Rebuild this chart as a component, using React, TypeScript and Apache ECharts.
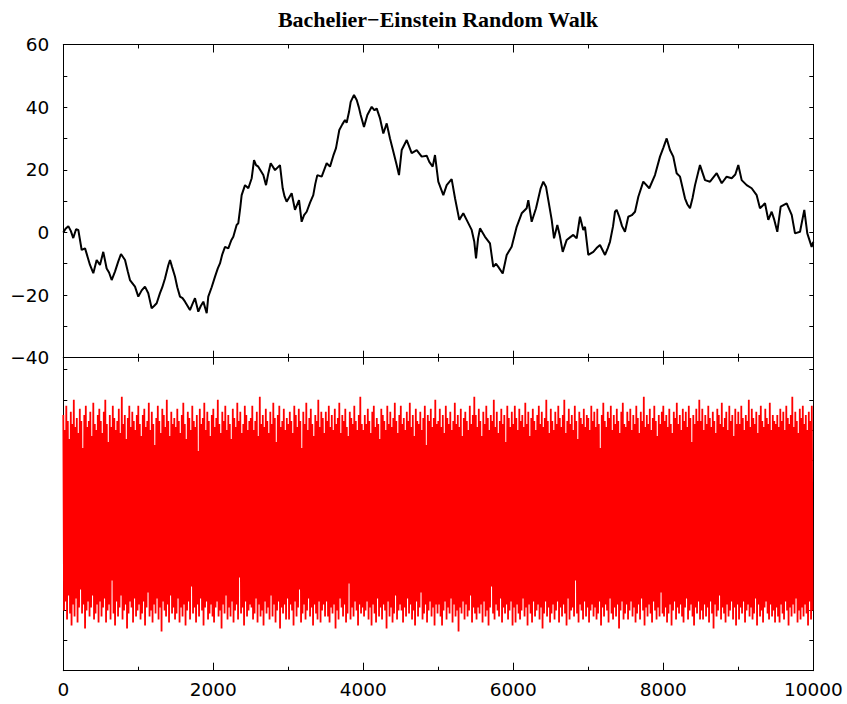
import React, { useEffect, useRef } from "react";
import * as echarts from "echarts";

const TITLE = "Bachelier\u2212Einstein Random Walk";

// x positions and values of the random walk (top panel)
const walkX = [
  0, 30, 67, 100, 133, 170, 200, 245, 290, 320, 356, 400, 445, 489, 533, 578, 610, 645, 689, 730,
  769, 823, 860, 889, 956, 1000, 1045, 1089, 1133, 1178, 1210, 1245, 1289, 1320, 1356, 1400, 1423, 1450, 1489, 1520,
  1556, 1590, 1623, 1689, 1720, 1756, 1800, 1833, 1867, 1912, 1933, 1978, 2023, 2060, 2089, 2120, 2156, 2200, 2240, 2267,
  2311, 2333, 2360, 2378, 2423, 2467, 2512, 2543, 2570, 2600, 2667, 2703, 2735, 2765, 2823, 2889, 2925, 2950, 2978, 3045,
  3089, 3143, 3178, 3210, 3245, 3290, 3333, 3360, 3387, 3445, 3512, 3556, 3600, 3636, 3680, 3720, 3756, 3778, 3810, 3832,
  3876, 3912, 3940, 3965, 4009, 4054, 4112, 4150, 4178, 4223, 4267, 4312, 4356, 4400, 4445, 4476, 4512, 4579, 4645, 4712,
  4779, 4845, 4880, 4925, 4956, 5000, 5067, 5112, 5178, 5223, 5280, 5333, 5378, 5445, 5480, 5503, 5530, 5556, 5623, 5689,
  5733, 5770, 5800, 5859, 5912, 5978, 6045, 6112, 6178, 6200, 6245, 6303, 6365, 6400, 6436, 6467, 6512, 6543, 6587, 6620,
  6659, 6712, 6760, 6800, 6845, 6889, 6933, 6956, 7000, 7067, 7110, 7156, 7223, 7260, 7289, 7330, 7356, 7378, 7413, 7450,
  7489, 7533, 7580, 7623, 7667, 7733, 7813, 7889, 7956, 8000, 8045, 8089, 8133, 8178, 8223, 8289, 8320, 8356, 8390, 8423,
  8489, 8556, 8623, 8712, 8779, 8845, 8912, 8960, 9000, 9045, 9112, 9178, 9245, 9289, 9356, 9400, 9445, 9480, 9520, 9565,
  9645, 9712, 9756, 9823, 9880, 9920, 9978, 10000,
];
const walkY = [
  0, 1.2, 2.0, 0.5, -1.8, 1.0, 0.8, -5.6, -5.1, -7.5, -10.4, -13, -8.8, -10.4, -6.2, -11.5, -12.8, -15.2, -12.5, -9.5,
  -6.9, -8.8, -12.5, -15.2, -17.3, -20.5, -18.5, -17.3, -19.4, -24.2, -23.5, -22.6, -19.4, -17.5, -14.7, -10.5, -8.8, -11, -14.1, -17.5,
  -20.5, -21, -22.1, -24.8, -23, -21, -25.3, -23.5, -22.1, -25.8, -20.5, -17.5, -14.1, -11.5, -9.9, -7, -4.6, -5.1, -2.5, -1.4,
  2.4, 2.9, 8, 11.9, 15.1, 14.1, 17.3, 23.1, 21.5, 21, 18.3, 15.1, 19, 22.1, 19.9, 21.5, 14.1, 11.5, 9.8, 12.5,
  7.2, 10.3, 3.4, 5.5, 6.6, 9.5, 11.9, 15.5, 18.3, 17.8, 22.1, 21, 24.5, 26.9, 32.7, 34.5, 35.9, 35, 38.5, 41.7,
  43.9, 42.3, 40, 37.5, 33.7, 37.5, 40.1, 39, 39.6, 36.4, 31.6, 34.8, 30, 25.8, 21.5, 18.3, 26.3, 29.5, 25.3, 26.3,
  24.2, 24.5, 22.5, 21, 24.7, 16.2, 11.9, 15.1, 17, 10.9, 4, 6.1, 4, 0.8, -3, -8.3, -2, 1.3, -1.4, -3.5,
  -11, -10, -11, -13.1, -7.2, -4.6, 1.8, 6.1, 7.7, 10.3, 3.4, 7.7, 14.1, 16.2, 14.6, 10.3, 4, -1.9, 2.4, -1,
  -6.2, -2.4, -1.5, -0.8, -1.9, 5, 0.8, 1.8, -7.2, -6.2, -5, -4, -7.2, -5, -3, 2, 6.6, 7.2, 5, 2,
  0.2, 5, 5.5, 6.6, 11.4, 16.2, 14.1, 18.3, 24.2, 27, 30, 26.3, 24.2, 18.9, 17.8, 10.9, 9, 7.7, 11, 15.1,
  21.5, 16.7, 16.2, 18.9, 15.7, 17.8, 17.3, 18.5, 21.5, 16.7, 15.1, 14.1, 11.9, 7.7, 9.3, 4, 6.6, 4, 0.2, 8.2,
  9.3, 5.6, -0.3, 0.2, 7.2, -0.3, -4.6, -3,
];

// increments (bottom panel): upper and lower extremes, one pair per 20 steps
const noiseHigh = [
  33,28,36,31,25,34,30,38,29,32,27,35,31,22,33,36,29,31,34,26,37,30,28,33,35,
  31,27,34,38,30,24,33,29,36,32,28,31,35,27,39,30,33,25,32,36,29,34,31,28,33,
  36,30,26,33,35,29,31,37,28,34,30,23,32,36,31,27,35,33,29,38,31,26,34,30,32,
  29,35,31,27,33,37,30,25,34,32,28,36,31,29,33,21,35,30,32,37,28,34,31,26,33,
  35,29,32,38,30,27,34,31,36,28,33,30,25,35,32,29,37,31,34,27,30,36,33,28,31,
  32,36,28,31,34,26,39,30,33,29,35,31,27,34,30,37,32,24,33,36,29,31,35,28,32,
  30,34,31,27,36,33,29,35,31,22,34,30,37,28,32,35,30,26,33,31,38,29,34,32,27,
  34,31,36,29,33,28,35,30,32,37,27,33,31,35,29,26,34,32,30,36,31,28,33,39,30,
  28,33,30,35,31,27,34,36,29,32,30,25,35,33,31,28,36,30,34,29,32,37,31,27,33,
  36,30,32,28,34,31,37,29,33,26,35,31,30,34,28,32,36,23,33,31,35,29,32,38,30,
  31,35,29,33,27,36,32,30,34,28,31,37,30,33,29,35,26,32,34,31,28,36,30,33,39,
  33,29,35,31,26,34,30,36,32,28,33,31,38,29,34,27,31,35,30,33,24,36,32,29,34,
  30,36,32,28,35,31,33,29,37,30,34,26,32,35,31,28,33,36,30,34,29,32,38,31,27,
  35,31,28,34,30,36,32,29,33,38,27,31,35,30,33,28,36,31,25,34,32,30,35,29,33,
  32,28,36,31,34,29,35,30,22,33,37,31,29,34,32,36,28,33,30,35,31,27,34,37,30,
  29,34,31,35,28,33,30,36,32,27,34,31,39,29,33,30,35,28,32,36,31,26,33,30,34,
  36,31,33,29,35,30,27,34,32,37,30,33,28,35,31,34,29,36,32,24,33,30,35,31,38,
  31,35,28,33,30,36,32,29,34,31,27,35,33,30,37,29,32,34,28,36,31,33,26,35,30,
  34,30,36,32,28,33,31,38,29,35,32,30,34,27,33,36,31,29,35,32,30,37,28,33,31,
  30,33,29,35,31,34,28,36,32,30,33,39,29,34,31,27,35,32,36,30,33,28,34,31,36,
];
const noiseLow = [
  -32,-29,-35,-27,-33,-37,-30,-34,-28,-36,-31,-25,-33,-30,-38,-32,-29,-34,-31,-27,-35,-33,-30,-36,-29,
  -34,-31,-28,-36,-32,-30,-35,-22,-33,-37,-29,-34,-31,-27,-35,-32,-30,-38,-33,-29,-31,-36,-28,-34,-32,
  -30,-35,-33,-29,-37,-31,-26,-34,-32,-36,-30,-33,-28,-35,-31,-39,-29,-32,-34,-30,-36,-27,-33,-31,-35,
  -33,-28,-36,-31,-34,-30,-37,-32,-29,-35,-24,-33,-31,-36,-30,-34,-28,-32,-37,-31,-29,-35,-33,-30,-34,
  -36,-31,-29,-34,-32,-38,-30,-33,-27,-35,-31,-34,-29,-36,-32,-30,-35,-21,-33,-31,-37,-29,-34,-32,-30,
  -31,-35,-33,-28,-36,-30,-34,-32,-37,-29,-33,-31,-35,-27,-34,-30,-36,-32,-29,-38,-31,-33,-30,-35,-28,
  -35,-30,-32,-37,-29,-34,-31,-25,-36,-33,-30,-35,-32,-28,-34,-31,-37,-30,-33,-35,-29,-36,-32,-30,-34,
  -29,-34,-36,-31,-33,-30,-38,-32,-35,-28,-31,-34,-30,-36,-33,-23,-35,-31,-34,-29,-32,-37,-30,-33,-31,
  -34,-32,-29,-35,-31,-37,-30,-33,-36,-28,-34,-31,-35,-30,-32,-38,-29,-34,-31,-36,-33,-27,-35,-32,-30,
  -32,-36,-31,-34,-28,-33,-30,-35,-32,-37,-29,-34,-31,-26,-35,-33,-30,-36,-32,-29,-34,-31,-37,-30,-33,
  -30,-34,-37,-32,-29,-35,-31,-33,-28,-36,-30,-34,-32,-39,-31,-33,-29,-35,-30,-34,-32,-27,-36,-31,-33,
  -35,-31,-33,-30,-36,-29,-34,-32,-37,-31,-24,-33,-35,-30,-32,-34,-28,-36,-31,-33,-30,-35,-32,-29,-37,
  -31,-36,-30,-33,-35,-32,-28,-34,-31,-37,-30,-33,-36,-29,-34,-32,-30,-35,-31,-38,-33,-29,-34,-31,-36,
  -33,-30,-35,-32,-29,-36,-31,-34,-30,-33,-37,-28,-35,-32,-31,-34,-22,-33,-36,-30,-32,-35,-29,-34,-31,
  -36,-32,-30,-34,-31,-35,-33,-29,-37,-31,-34,-30,-32,-36,-28,-33,-35,-31,-34,-30,-38,-32,-29,-35,-33,
  -30,-35,-32,-29,-34,-31,-36,-33,-30,-35,-28,-32,-37,-31,-34,-30,-33,-36,-29,-32,-35,-31,-34,-26,-33,
  -34,-31,-36,-33,-30,-37,-32,-29,-35,-31,-33,-30,-34,-36,-31,-28,-35,-32,-30,-34,-37,-31,-33,-29,-35,
  -32,-35,-30,-34,-31,-36,-29,-33,-38,-30,-34,-32,-27,-35,-31,-33,-36,-30,-34,-32,-29,-35,-31,-37,-30,
  -35,-31,-33,-29,-36,-32,-30,-34,-31,-35,-33,-28,-37,-30,-34,-32,-36,-31,-29,-33,-35,-30,-34,-32,-36,
  -31,-34,-36,-30,-33,-35,-29,-32,-37,-31,-34,-30,-33,-28,-36,-32,-35,-31,-34,-30,-33,-37,-29,-35,-32,
];

const NOISE_STEP = 20;

const MINUS = "\u2212";
const fmtY = (v: number) => {
  if (Math.round(v) % 20 !== 0) return "";
  return v < 0 ? MINUS + Math.abs(v) : String(v);
};
const fmtX = (v: number) => String(Math.round(v));

export default function App() {
  const ref = useRef<HTMLDivElement>(null);
  useEffect(() => {
    if (!ref.current) return;
    const chart = echarts.init(ref.current, undefined, { renderer: "svg" });

    const walkData = walkX.map((x, i) => [x, walkY[i]]);
    const noiseData: number[][] = [];
    noiseHigh.forEach((h, i) => {
      noiseData.push([i * NOISE_STEP, h]);
      noiseData.push([i * NOISE_STEP + NOISE_STEP / 2, noiseLow[i]]);
    });

    const black = { color: "#000", width: 1 };
    const labelFont = { fontFamily: "DejaVu Sans", fontSize: 18.5, color: "#000" };
    const xAxisBase = (grid: number, pos: "top" | "bottom", major: number, labels: boolean) => ({
      type: "value" as const,
      gridIndex: grid,
      position: pos,
      min: 0,
      max: 10000,
      interval: 2000,
      axisLine: { show: true, onZero: false, lineStyle: black },
      axisTick: { show: true, inside: true, length: major, lineStyle: black },
      minorTick: { show: true, splitNumber: 2, length: 4, lineStyle: black },
      splitLine: { show: false },
      minorSplitLine: { show: false },
      axisLabel: labels
        ? { show: true, margin: 9, formatter: fmtX, ...labelFont }
        : { show: false },
    });
    const yAxisBase = (grid: number, pos: "left" | "right", min: number, max: number, labels: boolean) => ({
      type: "value" as const,
      gridIndex: grid,
      position: pos,
      min,
      max,
      interval: 10,
      axisLine: { show: true, onZero: false, lineStyle: black },
      axisTick: { show: true, inside: true, length: 4, lineStyle: black },
      splitLine: { show: false },
      axisLabel: labels
        ? { show: true, margin: 14, formatter: fmtY, ...labelFont }
        : { show: false },
    });

    chart.setOption({
      animation: false,
      backgroundColor: "#fff",
      grid: [
        { left: 63.3, top: 44.5, width: 750, height: 313.2, show: false },
        { left: 63.3, top: 357.7, width: 750, height: 313, show: false },
      ],
      xAxis: [
        xAxisBase(0, "bottom", 7, false),
        xAxisBase(0, "top", 8, false),
        xAxisBase(1, "top", 7, false),
        xAxisBase(1, "bottom", 8, true),
      ],
      yAxis: [
        yAxisBase(0, "left", -40, 60, true),
        yAxisBase(0, "right", -40, 60, false),
        yAxisBase(1, "left", -52, 52, false),
        yAxisBase(1, "right", -52, 52, false),
      ],
      graphic: [
        {
          type: "text",
          x: 438,
          y: 19.5,
          style: {
            text: TITLE,
            font: 'bold 22px "Liberation Serif"',
            textAlign: "center",
            textVerticalAlign: "middle",
            fill: "#000",
          },
        },
      ],
      series: [
        {
          type: "line",
          xAxisIndex: 3,
          yAxisIndex: 2,
          data: noiseData,
          showSymbol: false,
          symbol: "none",
          lineStyle: { color: "#ff0000", width: 1.8 },
          silent: true,
        },
        {
          type: "line",
          xAxisIndex: 0,
          yAxisIndex: 0,
          data: walkData,
          showSymbol: false,
          symbol: "none",
          lineStyle: { color: "#000", width: 2 },
          silent: true,
        },
      ],
    });
    return () => chart.dispose();
  }, []);
  return (
    <div
      ref={ref}
      style={{ position: "absolute", left: 0, top: 0, width: 847, height: 704 }}
    />
  );
}
